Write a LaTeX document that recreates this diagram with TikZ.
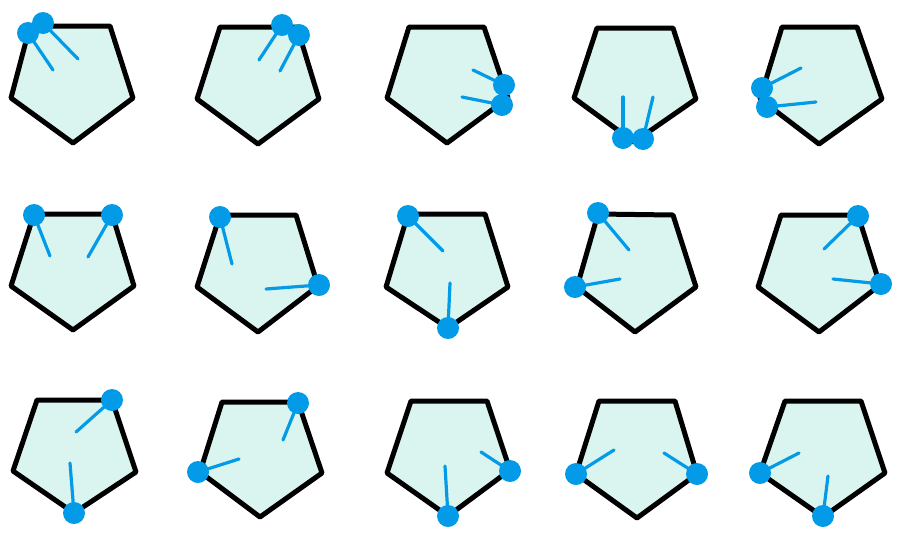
\documentclass[tikz,border=0pt]{standalone}
\definecolor{mint}{HTML}{DAF5F0}
\definecolor{pinblue}{HTML}{039BE8}
\tikzset{
  pent/.style={draw=black, fill=mint, line width=5pt, line join=round},
  pinline/.style={draw=pinblue, line width=3.2pt, line cap=round},
  pindot/.style={fill=pinblue},
}
\newcommand{\pinat}[4]{\draw[pinline] (#1,#2) -- (#3,#4); \fill[pindot] (#3,#4) circle (11);}
\begin{document}
\begin{tikzpicture}[x=1pt,y=-1pt]
\useasboundingbox (0,0) rectangle (900,539);
% Row 1
\draw[pent] (30,26) -- (110,26) -- (133,98) -- (73,143) -- (11,98) -- cycle;
\pinat{53}{70}{28}{33}
\pinat{78}{59}{43}{23}

\draw[pent] (220,27) -- (297,27) -- (319,99) -- (258,144) -- (197,99) -- cycle;
\pinat{259}{60}{282}{25}
\pinat{280}{71}{299}{35}

\draw[pent] (409,27) -- (484,27) -- (508,98) -- (447,143) -- (387,98) -- cycle;
\pinat{473}{70}{504}{85}
\pinat{462}{97}{502}{105}

\draw[pent] (597,28) -- (673,28) -- (696,99) -- (634,142) -- (574,98) -- cycle;
\pinat{623}{97}{623}{138}
\pinat{653}{97}{643}{139}

\draw[pent] (782,27) -- (857,27) -- (882,99) -- (819,144) -- (760,99) -- cycle;
\pinat{801}{68}{762}{88}
\pinat{816}{102}{767}{107}

% Row 2
\draw[pent] (34,214) -- (112,214) -- (134,286) -- (73,330) -- (11,286) -- cycle;
\pinat{50}{256}{34}{215}
\pinat{88}{257}{112}{215}

\draw[pent] (220,215) -- (296,215) -- (318,286) -- (258,332) -- (197,287) -- cycle;
\pinat{232}{264}{220}{217}
\pinat{266}{289}{319}{285}

\draw[pent] (408,214) -- (485,214) -- (508,287) -- (448,328) -- (386,287) -- cycle;
\pinat{443}{251}{408}{216}
\pinat{450}{283}{448}{328}

\draw[pent] (598,214) -- (673,215) -- (696,287) -- (635,332) -- (577,287) -- cycle;
\pinat{629}{250}{598}{213}
\pinat{620}{279}{575}{287}

\draw[pent] (781,215) -- (858,215) -- (880,285) -- (819,332) -- (758,287) -- cycle;
\pinat{824}{249}{858}{216}
\pinat{833}{279}{881}{284}

% Row 3
\draw[pent] (37,400) -- (112,400) -- (136,472) -- (74,513) -- (13,471) -- cycle;
\pinat{76}{432}{112}{400}
\pinat{70}{463}{74}{513}

\draw[pent] (222,402) -- (298,402) -- (322,473) -- (260,517) -- (200,472) -- cycle;
\pinat{283}{440}{298}{403}
\pinat{239}{459}{198}{472}

\draw[pent] (411,401) -- (487,401) -- (510,470) -- (448,516) -- (387,473) -- cycle;
\pinat{481}{452}{510}{471}
\pinat{445}{466}{448}{516}

\draw[pent] (599,401) -- (675,401) -- (697,474) -- (637,518) -- (576,474) -- cycle;
\pinat{614}{450}{576}{474}
\pinat{664}{453}{697}{474}

\draw[pent] (785,401) -- (861,401) -- (885,473) -- (823,517) -- (760,473) -- cycle;
\pinat{799}{453}{760}{473}
\pinat{828}{476}{823}{516}
\end{tikzpicture}
\end{document}
